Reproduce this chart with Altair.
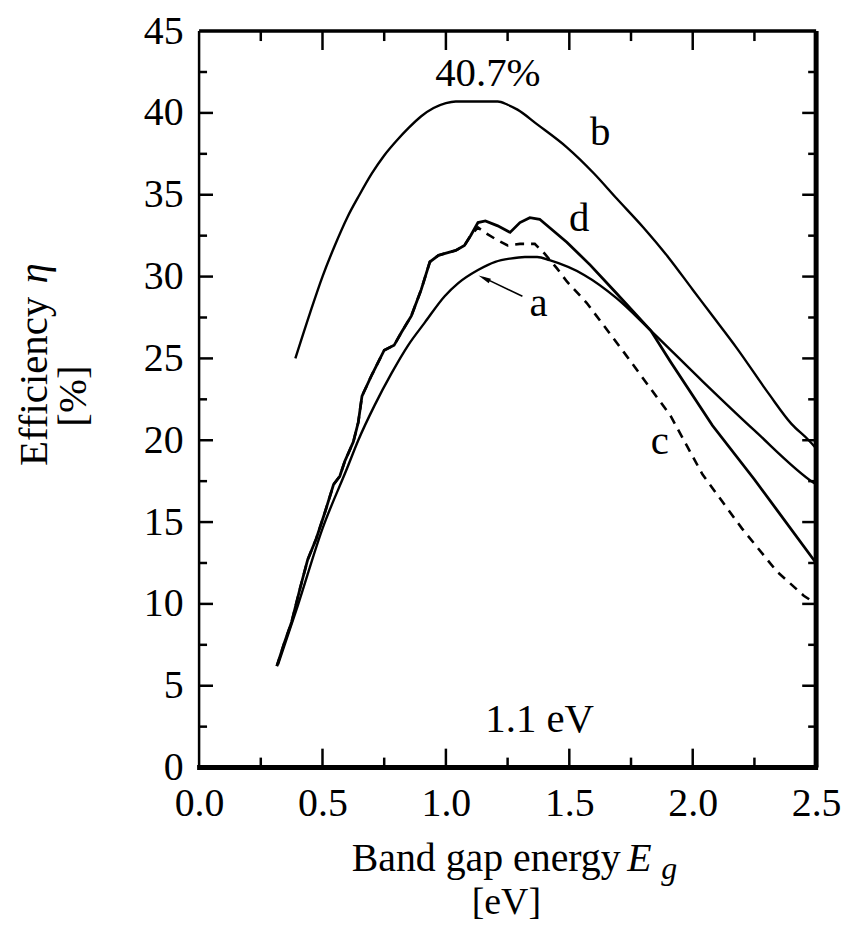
import altair as alt
import pandas as pd

# ---- data ----
b_E   = [0.39, 0.45, 0.50, 0.55, 0.60, 0.65, 0.70, 0.75, 0.80, 0.85, 0.90, 0.95, 1.00, 1.04, 1.21, 1.25, 1.29, 1.37, 1.49, 1.60, 1.69, 1.80, 1.90, 2.00, 2.07, 2.18, 2.31, 2.40, 2.47, 2.50]
b_eta = [25.0, 27.8, 30.0, 31.9, 33.6, 35.0, 36.3, 37.4, 38.3, 39.1, 39.8, 40.3, 40.6, 40.7, 40.7, 40.5, 40.2, 39.3, 37.9, 36.3, 34.8, 33.0, 31.2, 29.2, 27.8, 25.6, 22.8, 21.0, 20.0, 19.5]

a_E   = [0.32, 0.40, 0.50, 0.60, 0.645, 0.71, 0.78, 0.847, 0.915, 0.995, 1.05, 1.13, 1.20, 1.26, 1.32, 1.37, 1.42, 1.56, 1.69, 1.83, 2.04, 2.25, 2.49, 2.50]
a_eta = [6.3, 9.9, 14.6, 18.3, 20.0, 22.1, 24.1, 25.8, 27.2, 28.8, 29.6, 30.4, 30.9, 31.1, 31.2, 31.2, 31.0, 30.1, 28.7, 26.7, 23.6, 20.6, 17.4, 17.3]

d_E   = [0.315, 0.345, 0.375, 0.41, 0.44, 0.475, 0.51, 0.545, 0.57, 0.59, 0.625, 0.645, 0.66, 0.70, 0.75, 0.79, 0.82, 0.86, 0.90, 0.935, 0.97, 1.04, 1.075, 1.10, 1.13, 1.16, 1.21, 1.26, 1.30, 1.34, 1.38, 1.49, 1.585, 1.69, 1.83, 1.91, 2.08, 2.25, 2.49, 2.50]
d_eta = [6.2, 7.6, 8.9, 11.0, 12.7, 14.0, 15.6, 17.3, 17.8, 18.7, 19.9, 21.1, 22.7, 24.0, 25.5, 25.8, 26.6, 27.6, 29.2, 30.9, 31.3, 31.6, 31.9, 32.5, 33.3, 33.4, 33.1, 32.7, 33.3, 33.6, 33.5, 32.1, 30.7, 29.0, 26.7, 24.8, 20.9, 17.6, 12.7, 12.5]

c_E   = [0.315, 0.345, 0.375, 0.41, 0.44, 0.475, 0.51, 0.545, 0.57, 0.59, 0.625, 0.645, 0.66, 0.70, 0.75, 0.79, 0.82, 0.86, 0.90, 0.935, 0.97, 1.04, 1.075, 1.10, 1.13, 1.157, 1.20, 1.25, 1.30, 1.36, 1.40, 1.45, 1.49, 1.57, 1.72, 1.91, 2.04, 2.20, 2.34, 2.45, 2.50]
c_eta = [6.2, 7.6, 8.9, 11.0, 12.7, 14.0, 15.6, 17.3, 17.8, 18.7, 19.9, 21.1, 22.7, 24.0, 25.5, 25.8, 26.6, 27.6, 29.2, 30.9, 31.3, 31.6, 31.9, 32.5, 33.0, 32.7, 32.3, 31.9, 32.0, 32.0, 31.4, 30.5, 29.7, 28.4, 25.4, 21.5, 17.9, 14.6, 12.0, 10.5, 10.0]

x_ticks_major = [0.5, 1.0, 1.5, 2.0]
x_ticks_minor = [0.25, 0.75, 1.25, 1.75, 2.25]
y_ticks_major = [5, 10, 15, 20, 25, 30, 35, 40]
y_ticks_minor = [2.5, 7.5, 12.5, 17.5, 22.5, 27.5, 32.5, 37.5, 42.5]
x_labels = [0.0, 0.5, 1.0, 1.5, 2.0, 2.5]
y_labels = [0, 5, 10, 15, 20, 25, 30, 35, 40, 45]

ann_text = ["40.7%", "b", "d", "a", "c", "1.1 eV"]
ann_E    = [1.17, 1.625, 1.54, 1.375, 1.867, 1.38]
ann_eta  = [42.4, 38.8, 33.5, 28.3, 19.9, 2.9]

W, H = 620, 740
FONT = "Liberation Serif"
FS = 41
LFS = 40

xs = alt.Scale(domain=[0, 2.5], nice=False, zero=False)
ys = alt.Scale(domain=[0, 45], nice=False, zero=False)


def series(E, eta):
    return pd.DataFrame({"E": E, "eta": eta})


X = alt.X("E:Q", scale=xs,
          axis=alt.Axis(values=x_labels, format=".1f", title=None, labelFlush=False))
Y = alt.Y("eta:Q", scale=ys,
          axis=alt.Axis(values=y_labels, format="d", title=None, labelFlush=False))

line_b = alt.Chart(series(b_E, b_eta)).mark_line(color="black", strokeWidth=2.4, interpolate="monotone").encode(x=X, y=Y)
line_a = alt.Chart(series(a_E, a_eta)).mark_line(color="black", strokeWidth=2.4, interpolate="monotone").encode(x="E:Q", y="eta:Q")
line_d = alt.Chart(series(d_E, d_eta)).mark_line(color="black", strokeWidth=2.8).encode(x="E:Q", y="eta:Q")
line_c = alt.Chart(series(c_E, c_eta)).mark_line(color="black", strokeWidth=2.6, strokeDash=[9, 7]).encode(x="E:Q", y="eta:Q")


# inward ticks on all four sides
def xt(vals, length):
    df = pd.DataFrame({"E": vals})
    bot = alt.Chart(df).mark_rule(color="black", strokeWidth=2.5).encode(
        x="E:Q", y=alt.value(H), y2=alt.value(H - length))
    top = alt.Chart(df).mark_rule(color="black", strokeWidth=2.5).encode(
        x="E:Q", y=alt.value(0), y2=alt.value(length))
    return bot + top


def yt(vals, length):
    df = pd.DataFrame({"eta": vals})
    left = alt.Chart(df).mark_rule(color="black", strokeWidth=2.5).encode(
        y="eta:Q", x=alt.value(0), x2=alt.value(length))
    right = alt.Chart(df).mark_rule(color="black", strokeWidth=2.5).encode(
        y="eta:Q", x=alt.value(W), x2=alt.value(W - length))
    return left + right


ticks = xt(x_ticks_major, 19) + xt(x_ticks_minor, 10) + yt(y_ticks_major, 14) + yt(y_ticks_minor, 8)

frame_df = pd.DataFrame({"k": [0]})
frame = (
    alt.Chart(frame_df).mark_rule(color="black", strokeWidth=2.5).encode(x=alt.value(0), y=alt.value(0), y2=alt.value(H))
    + alt.Chart(frame_df).mark_rule(color="black", strokeWidth=3.5).encode(x=alt.value(0), x2=alt.value(W), y=alt.value(0))
    + alt.Chart(frame_df).mark_rule(color="black", strokeWidth=5).encode(x=alt.value(W), y=alt.value(0), y2=alt.value(H))
    + alt.Chart(frame_df).mark_rule(color="black", strokeWidth=5).encode(x=alt.value(-2), x2=alt.value(W + 2), y=alt.value(H))
)

ann = alt.Chart(pd.DataFrame({"t": ann_text, "E": ann_E, "eta": ann_eta})).mark_text(
    font=FONT, fontSize=FS, color="black", baseline="middle", align="center"
).encode(x="E:Q", y="eta:Q", text="t:N")

# arrow pointing at curve a
arrow_df = pd.DataFrame({"E": [1.31], "eta": [28.8], "E2": [1.15], "eta2": [29.95]})
arrow_line = alt.Chart(arrow_df).mark_rule(color="black", strokeWidth=1.6).encode(
    x="E:Q", y="eta:Q", x2="E2:Q", y2="eta2:Q")
head_df = pd.DataFrame({"E": [1.155], "eta": [29.9]})
arrow_head = alt.Chart(head_df).mark_point(
    shape="M0,-1L0.4,1L-0.4,1Z", filled=True, color="black", size=160, angle=296, opacity=1
).encode(x="E:Q", y="eta:Q")

# axis titles as text
xtitle1 = alt.Chart(pd.DataFrame({"t": ["Band gap energy"], "E": [1.708], "eta": [-5.6]})).mark_text(
    font=FONT, fontSize=40, color="black", baseline="middle", align="right").encode(
    x="E:Q", y="eta:Q", text="t:N")
xtitle2 = alt.Chart(pd.DataFrame({"t": ["[eV]"], "E": [1.245], "eta": [-8.3]})).mark_text(
    font=FONT, fontSize=38, color="black", baseline="middle", align="center").encode(
    x="E:Q", y="eta:Q", text="t:N")
xtitle_E = alt.Chart(pd.DataFrame({"t": ["E"], "E": [1.735], "eta": [-5.6]})).mark_text(
    font=FONT, fontSize=40, fontStyle="italic", color="black", baseline="middle", align="left").encode(
    x="E:Q", y="eta:Q", text="t:N")
xtitle_g = alt.Chart(pd.DataFrame({"t": ["g"], "E": [1.872], "eta": [-6.2]})).mark_text(
    font=FONT, fontSize=32, fontStyle="italic", color="black", baseline="middle", align="left").encode(
    x="E:Q", y="eta:Q", text="t:N")

ytitle1 = alt.Chart(pd.DataFrame({"t": ["Efficiency"], "E": [-0.665], "eta": [23.6]})).mark_text(
    font=FONT, fontSize=FS, color="black", baseline="middle", align="center", angle=270).encode(
    x="E:Q", y="eta:Q", text="t:N")
ytitle_eta = alt.Chart(pd.DataFrame({"t": ["η"], "E": [-0.665], "eta": [30.2]})).mark_text(
    font=FONT, fontSize=FS, fontStyle="italic", color="black", baseline="middle", align="center", angle=270).encode(
    x="E:Q", y="eta:Q", text="t:N")
ytitle2 = alt.Chart(pd.DataFrame({"t": ["[%]"], "E": [-0.505], "eta": [22.7]})).mark_text(
    font=FONT, fontSize=FS, color="black", baseline="middle", align="center", angle=270).encode(
    x="E:Q", y="eta:Q", text="t:N")

chart = alt.layer(
    line_b, line_a, line_d, line_c, ticks, frame, ann, arrow_line, arrow_head,
    xtitle1, xtitle2, xtitle_E, xtitle_g, ytitle1, ytitle_eta, ytitle2
).properties(
    width=W, height=H,
    autosize=alt.AutoSizeParams(type="none"),
    padding={"left": 192, "top": 21, "right": 27, "bottom": 157},
    background="white",
).configure_view(stroke=None).configure_axis(
    domain=False, ticks=False, tickSize=0, grid=False, labelFlush=False,
    labelFont=FONT, labelFontSize=LFS, labelColor="black", labelPadding=16,
).configure_axisX(labelPadding=16)

chart.save("out.html", embed_options={"renderer": "svg", "actions": False})
